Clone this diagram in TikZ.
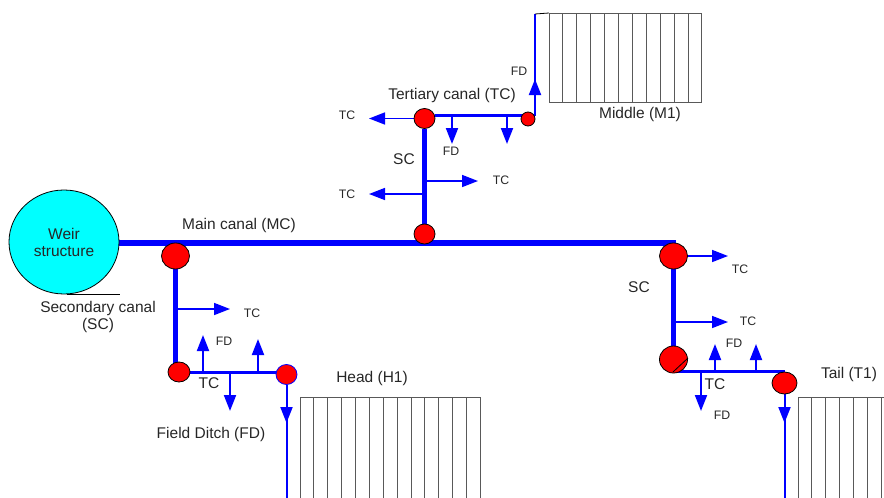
\documentclass[tikz,border=0pt]{standalone}
\usepackage{fontspec}
\setmainfont{Liberation Sans}
\usetikzlibrary{positioning,arrows.meta,backgrounds,shapes.geometric}
\definecolor{weircyan}{RGB}{0,255,255}
\definecolor{canalblue}{RGB}{0,0,255}
\definecolor{gatered}{RGB}{255,0,0}
\tikzset{
  gate/.style={ellipse, draw=black, fill=gatered, inner sep=0pt, line width=0.8pt},
  canalmain/.style={draw=canalblue, line width=6pt},
  canalsec/.style={draw=canalblue, line width=4.6pt},
  canalter/.style={draw=canalblue, line width=3pt},
  ditch/.style={draw=canalblue, line width=2pt},
  flowarrow/.style={draw=canalblue, line width=1.6pt, -{Triangle[length=16pt,width=12pt,fill=canalblue]}},
  fdarrow/.style={flowarrow, line width=2pt},
  biglabel/.style={font=\fontsize{15.5}{17}\selectfont, align=center, text=black!85, inner sep=0pt},
  smalllabel/.style={font=\fontsize{12.3}{14}\selectfont, text=black!85, inner sep=0pt},
  field/.style={draw=black!65, line width=0.9pt},
}
\begin{document}
\begin{tikzpicture}[x=1pt,y=-1pt]
  \useasboundingbox (0,0) rectangle (884,498);
  % structure and gates
  \node[ellipse, draw=black, fill=weircyan, line width=0.8pt, minimum width=110pt, minimum height=104pt, inner sep=0pt,
    biglabel] (weir) at (64,242) {Weir\\structure};
  \node[gate, minimum width=28pt, minimum height=26pt] (gateA) at (175.5,256) {};
  \node[gate, minimum width=22pt, minimum height=20pt] (gateB) at (179,372) {};
  \node[gate, draw=canalblue, minimum width=21pt, minimum height=20pt] (gateC) at (286.5,374.5) {};
  \node[gate, minimum width=21pt, minimum height=20pt] (gateD) at (424.5,234) {};
  \node[gate, minimum width=21pt, minimum height=20pt] (gateE) at (424.5,118.5) {};
  \node[gate, minimum width=14pt, minimum height=14pt] (gateF) at (528,119) {};
  \node[gate, minimum width=28pt, minimum height=26pt] (gateG) at (673.5,256) {};
  \node[gate, minimum width=28pt, minimum height=27pt] (gateH) at (673.5,359.5) {};
  \node[gate, minimum width=25pt, minimum height=22pt] (gateI) at (784.5,383) {};
  % free ends
  \coordinate (mainEnd) at (676,243);
  \coordinate (tcHeadR) at (280,372);
  \coordinate (tcMidR) at (535,115.5);
  \coordinate (tcTailL) at (672,371);
  \coordinate (tcTailR) at (785,371);
  \coordinate (ditchHead) at (286.5,498);
  \coordinate (ditchHeadTip) at (286.5,423);
  \coordinate (ditchMidTop) at (535,14);
  \coordinate (ditchMidTip) at (535,79);
  \coordinate (ditchTail) at (784.5,498);
  \coordinate (ditchTailTip) at (784.5,423);
  \coordinate (armA) at (230,309);
  \coordinate (armB) at (369,118.5);
  \coordinate (armC) at (478,181);
  \coordinate (armD) at (369,194);
  \coordinate (armE) at (728,256);
  \coordinate (armF) at (728,322);
  \coordinate (fdA) at (203,335);
  \coordinate (fdB) at (258,339);
  \coordinate (fdC) at (230,411);
  \coordinate (fdD) at (452,144);
  \coordinate (fdE) at (507,144);
  \coordinate (fdF) at (715,344);
  \coordinate (fdG) at (756,344);
  \coordinate (fdH) at (701,411);
  \begin{scope}[on background layer]
    \draw[canalmain] (weir.east |- mainEnd) -- (mainEnd);
    \draw[canalsec] (gateA) -- (gateA |- gateB);
    \draw[canalsec] (gateD) -- (gateE);
    \draw[canalsec] (gateG) -- (gateH);
    \draw[canalter] (gateB) -- (tcHeadR);
    \draw[canalter] (gateE.east |- tcMidR) -- (tcMidR);
    \draw[canalter] (tcTailL) -- (tcTailR);
    \draw[ditch] (gateC) -- (ditchHead);
    \draw[ditch] (gateI) -- (ditchTail);
    \draw[ditch] (ditchMidTop) -- (tcMidR);
    \draw[fdarrow] (gateC) -- (ditchHeadTip);
    \draw[fdarrow] (gateI) -- (ditchTailTip);
    \draw[fdarrow] (tcMidR) -- (ditchMidTip);
    \draw[flowarrow] (gateA |- armA) -- (armA);
    \draw[flowarrow] (gateE) -- (armB);
    \draw[flowarrow] (gateE |- armC) -- (armC);
    \draw[flowarrow] (gateE |- armD) -- (armD);
    \draw[flowarrow] (gateG) -- (armE);
    \draw[flowarrow] (gateG |- armF) -- (armF);
    \draw[fdarrow] (fdA |- gateB) -- (fdA);
    \draw[fdarrow] (fdB |- gateB) -- (fdB);
    \draw[fdarrow] (fdC |- gateB) -- (fdC);
    \draw[fdarrow] (fdD |- tcMidR) -- (fdD);
    \draw[fdarrow] (fdE |- tcMidR) -- (fdE);
    \draw[fdarrow] (fdF |- tcTailL) -- (fdF);
    \draw[fdarrow] (fdG |- tcTailL) -- (fdG);
    \draw[fdarrow] (fdH |- tcTailL) -- (fdH);
  \end{scope}
  % black marks
  \draw[line width=0.8pt] (67,294) -- (120,294);
  \draw[line width=0.8pt] (673,372) -- (688,358);
  \draw[line width=0.8pt] (535,14) -- (549,13);
  % fields
  \foreach \n in {0,...,11} \draw[field] ({549+13.9*\n},13) -- ({549+13.9*\n},102.5);
  \draw[field] (549,13) -- (702,13) (549,102.5) -- (702,102.5);
  \foreach \n in {0,...,13} \draw[field] ({300+13.87*\n},397) -- ({300+13.87*\n},498);
  \draw[field] (300,397) -- (480,397);
  \foreach \n in {0,...,6} \draw[field] ({798+13.87*\n},397) -- ({798+13.87*\n},498);
  \draw[field] (798,397) -- (884,397);
  % labels
  \node[biglabel] (lblMain) at (239,225) {Main canal (MC)};
  \node[biglabel] (lblSec) at (98,317) {Secondary canal\\(SC)};
  \node[biglabel] (lblDitch) at (211,434) {Field Ditch (FD)};
  \node[biglabel] (lblTer) at (452,95) {Tertiary canal (TC)};
  \node[biglabel] (lblMid) at (640,114) {Middle (M1)};
  \node[biglabel] (lblHead) at (372,378) {Head (H1)};
  \node[biglabel] (lblTail) at (849,374) {Tail (T1)};
  \node[biglabel] (lblScA) at (404,159) {SC};
  \node[biglabel] (lblScB) at (639,287) {SC};
  \node[biglabel] (lblTcA) at (209,383) {TC};
  \node[biglabel] (lblTcB) at (715,384) {TC};
  \node[smalllabel] (tcA) at (252,313) {TC};
  \node[smalllabel] (tcB) at (347,115) {TC};
  \node[smalllabel] (tcC) at (347,194) {TC};
  \node[smalllabel] (tcD) at (501,180) {TC};
  \node[smalllabel] (tcE) at (740,269) {TC};
  \node[smalllabel] (tcF) at (748,321) {TC};
  \node[smalllabel] (lblFdA) at (224,341) {FD};
  \node[smalllabel] (lblFdB) at (451,151) {FD};
  \node[smalllabel] (lblFdC) at (519,71) {FD};
  \node[smalllabel] (lblFdD) at (734,343) {FD};
  \node[smalllabel] (lblFdE) at (722,415) {FD};
\end{tikzpicture}
\end{document}
